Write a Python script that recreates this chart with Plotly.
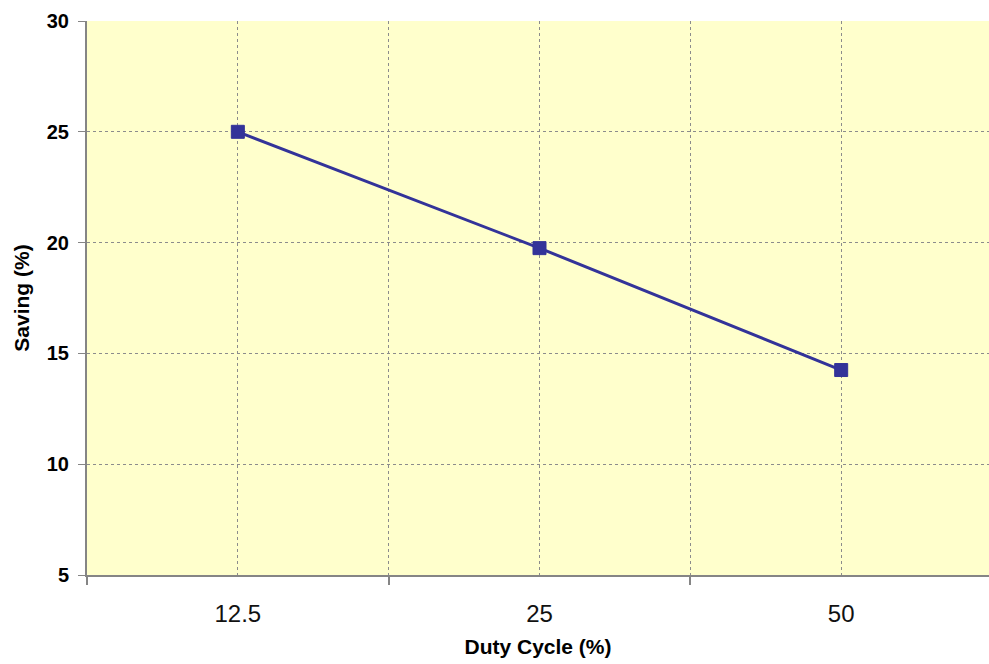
import plotly.graph_objects as go

categories = ["12.5", "25", "50"]
saving = [25.0, 19.75, 14.25]
y_ticks = [5, 10, 15, 20, 25, 30]

x_idx = list(range(len(categories)))

fig = go.Figure()
fig.add_trace(go.Scatter(
    x=x_idx, y=saving, mode="lines+markers",
    line=dict(color="#333399", width=3),
    marker=dict(symbol="square", size=13, color="#333399",
                line=dict(color="#333399", width=1)),
    showlegend=False, cliponaxis=False,
))

fig.update_layout(
    width=989, height=664,
    margin=dict(l=87, r=0, t=21, b=89),
    paper_bgcolor="white",
    plot_bgcolor="#FFFFCC",
    font=dict(family="Arial, Liberation Sans, sans-serif", color="black"),
    xaxis=dict(
        range=[-0.5, 2.49],
        tickmode="array", tickvals=x_idx, ticktext=categories,
        ticks="", showgrid=True, gridcolor="#8c8c8c", griddash="3px,3px", gridwidth=1,
        tickfont=dict(size=24, color="#111111"),
        ticklabelstandoff=16,
        showline=True, linecolor="#858585", linewidth=2,
        zeroline=False,
        minor=dict(tickmode="array", tickvals=[-0.5, 0.5, 1.5],
                   ticks="outside", ticklen=8, tickwidth=2, tickcolor="#858585",
                   showgrid=True, gridcolor="#8c8c8c", griddash="3px,3px", gridwidth=1),
        title=dict(text="Duty Cycle (%)", font=dict(size=21, weight="bold"), standoff=14),
    ),
    yaxis=dict(
        range=[5, 30],
        tickmode="array", tickvals=y_ticks,
        ticks="outside", ticklen=7, tickwidth=1, tickcolor="#858585",
        showgrid=True, gridcolor="#8c8c8c", griddash="3px,3px", gridwidth=1,
        tickfont=dict(size=20, weight="bold"),
        ticklabelstandoff=5,
        showline=True, linecolor="#858585", linewidth=2,
        zeroline=False,
        title=dict(text="Saving (%)", font=dict(size=21, weight="bold"), standoff=11),
    ),
)

fig.write_html("out.html")
